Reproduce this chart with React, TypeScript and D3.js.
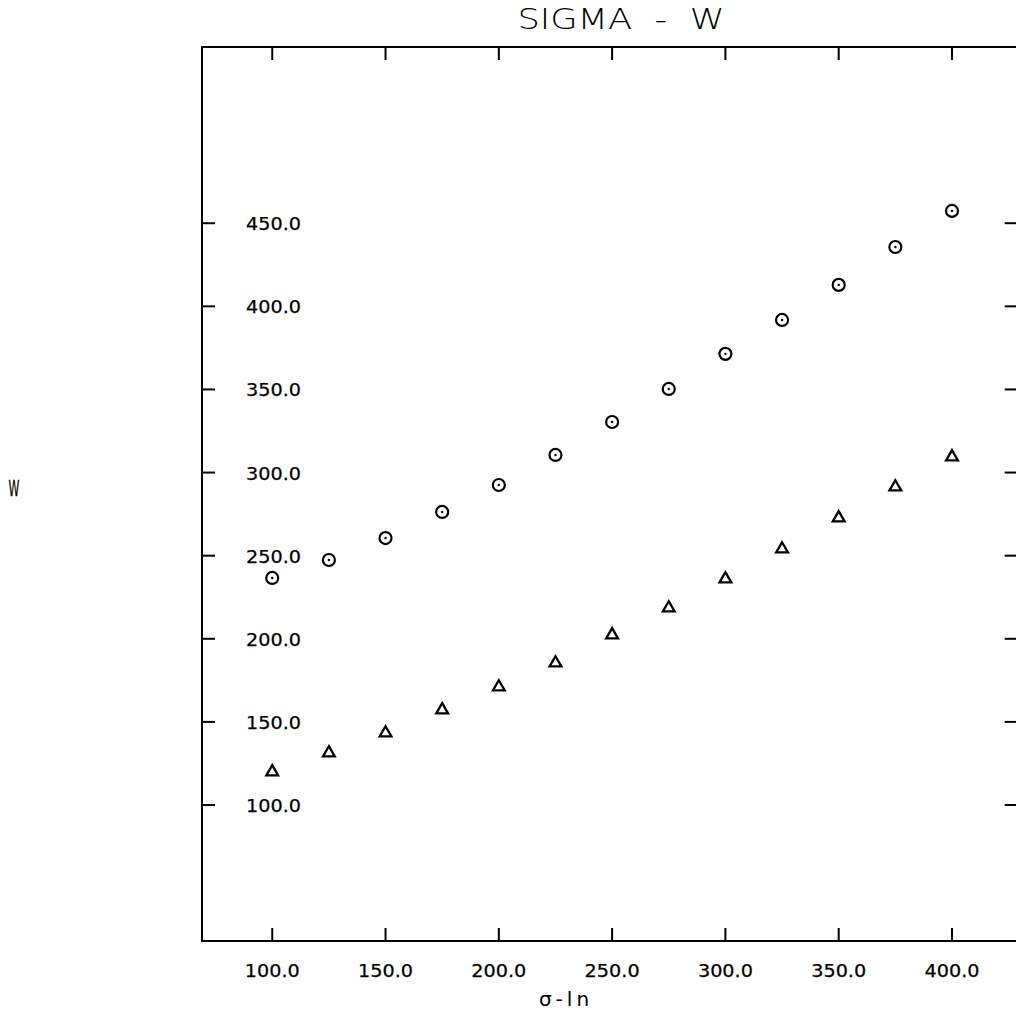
import React from "react";
import * as d3 from "d3";

const xValues = [100, 125, 150, 175, 200, 225, 250, 275, 300, 325, 350, 375, 400];
const circleSeries = [236.6, 247.4, 260.6, 276.3, 292.5, 310.6, 330.4, 350.3, 371.4, 391.8, 412.9, 435.7, 457.4];
const triangleSeries = [120.5, 131.9, 143.9, 157.8, 171.6, 186.0, 202.9, 219.1, 236.6, 254.6, 273.3, 291.9, 310.0];
const xTicks = [100, 150, 200, 250, 300, 350, 400];
const yTicks = [100, 150, 200, 250, 300, 350, 400, 450];
const title = "SIGMA  -  W";
const xLabel = "σ-ln";
const yLabel = "W";

const W = 1016;
const H = 1015;
const left = 202, right = 1017.7, top = 47, bottom = 941;

export default function App() {
  const x = d3.scaleLinear().domain([69, 429]).range([left, right]);
  const y = d3.scaleLinear().domain([18.2, 556]).range([bottom, top]);
  const tick = 13;
  const font = "'DejaVu Sans', 'Liberation Sans', sans-serif";
  const tri = d3.symbol().type(d3.symbolTriangle).size(60);

  return (
    <svg width={W} height={H} style={{ position: "absolute", left: 0, top: 0, background: "#fff" }}>
      <rect x={0} y={0} width={W} height={H} fill="#fff" />
      {/* frame */}
      <rect x={left} y={top} width={right - left} height={bottom - top} fill="none" stroke="#000" strokeWidth={2} />
      {/* x ticks top & bottom */}
      {xTicks.map((t) => (
        <g key={"xt" + t}>
          <line x1={x(t)} x2={x(t)} y1={bottom} y2={bottom - tick} stroke="#000" strokeWidth={2} />
          <line x1={x(t)} x2={x(t)} y1={top} y2={top + tick} stroke="#000" strokeWidth={2} />
          <text x={x(t)} y={977} textAnchor="middle" fontFamily={font} fontSize={18} textLength={55} lengthAdjust="spacingAndGlyphs" fill="#000" stroke="#000" strokeWidth={0.25}>
            {d3.format(".1f")(t)}
          </text>
        </g>
      ))}
      {/* y ticks left & right */}
      {yTicks.map((t) => (
        <g key={"yt" + t}>
          <line x1={left} x2={left + tick} y1={y(t)} y2={y(t)} stroke="#000" strokeWidth={2} />
          <line x1={right} x2={right - tick} y1={y(t)} y2={y(t)} stroke="#000" strokeWidth={2} />
          <text x={301} y={y(t) + 7} textAnchor="end" fontFamily={font} fontSize={18} textLength={55} lengthAdjust="spacingAndGlyphs" fill="#000" stroke="#000" strokeWidth={0.25}>
            {d3.format(".1f")(t)}
          </text>
        </g>
      ))}
      {/* circles */}
      {xValues.map((v, i) => (
        <g key={"c" + i} transform={`translate(${x(v)},${y(circleSeries[i])})`}>
          <circle r={6} fill="none" stroke="#000" strokeWidth={2.2} />
          <circle r={1.2} fill="#000" />
        </g>
      ))}
      {/* triangles */}
      {xValues.map((v, i) => (
        <path key={"t" + i} d={tri() || ""} transform={`translate(${x(v)},${y(triangleSeries[i]) + 1})`} fill="none" stroke="#000" strokeWidth={2.3} />
      ))}
      {/* title */}
      <text x={621} y={29} textAnchor="middle" fontFamily={font} fontWeight={200} fontSize={29} textLength={207} lengthAdjust="spacingAndGlyphs" fill="#000" style={{ whiteSpace: "pre" }}>
        {title}
      </text>
      {/* x label */}
      <text x={566} y={1006} textAnchor="middle" fontFamily={font} fontSize={20} letterSpacing={4} fill="#000">
        {xLabel}
      </text>
      {/* y label */}
      <text x={14} y={496} textAnchor="middle" fontFamily={font} fontSize={22} fill="#000" stroke="#000" strokeWidth={0.3} transform="translate(14,496) scale(0.5,1) translate(-14,-496)">
        {yLabel}
      </text>
    </svg>
  );
}
